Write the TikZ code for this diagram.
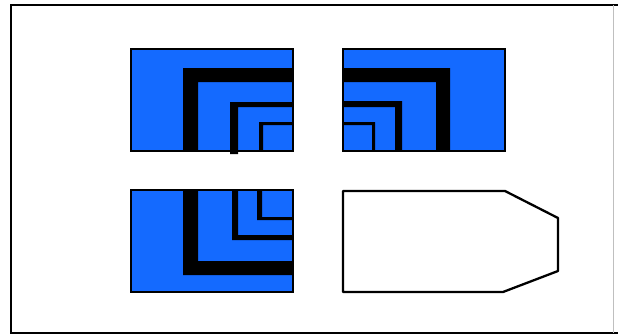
\documentclass[tikz,border=0pt]{standalone}
\definecolor{tileblue}{RGB}{20,106,255}
\tikzset{
  tile/.style={fill=tileblue,draw=black,line width=1.5pt},
  bar/.style={fill=black,draw=none},
  frame/.style={draw=black,line width=1.8pt},
  plate/.style={draw=black,fill=white,line width=2.3pt,line join=round}
}
\begin{document}
\begin{tikzpicture}[x=1pt,y=-1pt]
\useasboundingbox (0,0) rectangle (618,335);
\draw[frame] (618,5) -- (11,5) -- (11,333) -- (618,333);
\draw[black!25,line width=0.8pt] (613,5) -- (613,333);
% top-left tile
\fill[tileblue] (131,49) rectangle (293,151);
\fill[bar] (183,151) -- (183,68) -- (293,68) -- (293,82) -- (198,82) -- (198,151) -- cycle;
\fill[bar] (230,154) -- (230,102) -- (293,102) -- (293,107) -- (238,107) -- (238,154) -- cycle;
\fill[bar] (259,151) -- (259,122) -- (293,122) -- (293,125) -- (263,125) -- (263,151) -- cycle;
\draw[black,line width=1.5pt] (131,49) rectangle (293,151);
% top-right tile
\fill[tileblue] (343,49) rectangle (505,151);
\fill[bar] (343,68) -- (450,68) -- (450,151) -- (436,151) -- (436,82) -- (343,82) -- cycle;
\fill[bar] (343,101) -- (402,101) -- (402,151) -- (395,151) -- (395,107) -- (343,107) -- cycle;
\fill[bar] (343,122) -- (375,122) -- (375,151) -- (372,151) -- (372,125) -- (343,125) -- cycle;
\draw[black,line width=1.5pt] (343,49) rectangle (505,151);
% bottom-left tile
\fill[tileblue] (131,190) rectangle (293,292);
\fill[bar] (183,190) -- (198,190) -- (198,261) -- (293,261) -- (293,275) -- (183,275) -- cycle;
\fill[bar] (232,190) -- (238,190) -- (238,235) -- (293,235) -- (293,240) -- (232,240) -- cycle;
\fill[bar] (257,190) -- (262,190) -- (262,217) -- (293,217) -- (293,220) -- (257,220) -- cycle;
\draw[black,line width=1.5pt] (131,190) rectangle (293,292);
% bottom-right plate
\draw[plate] (343,191) -- (505,191) -- (558,218) -- (558,271) -- (503,292) -- (343,292) -- cycle;
\end{tikzpicture}
\end{document}
